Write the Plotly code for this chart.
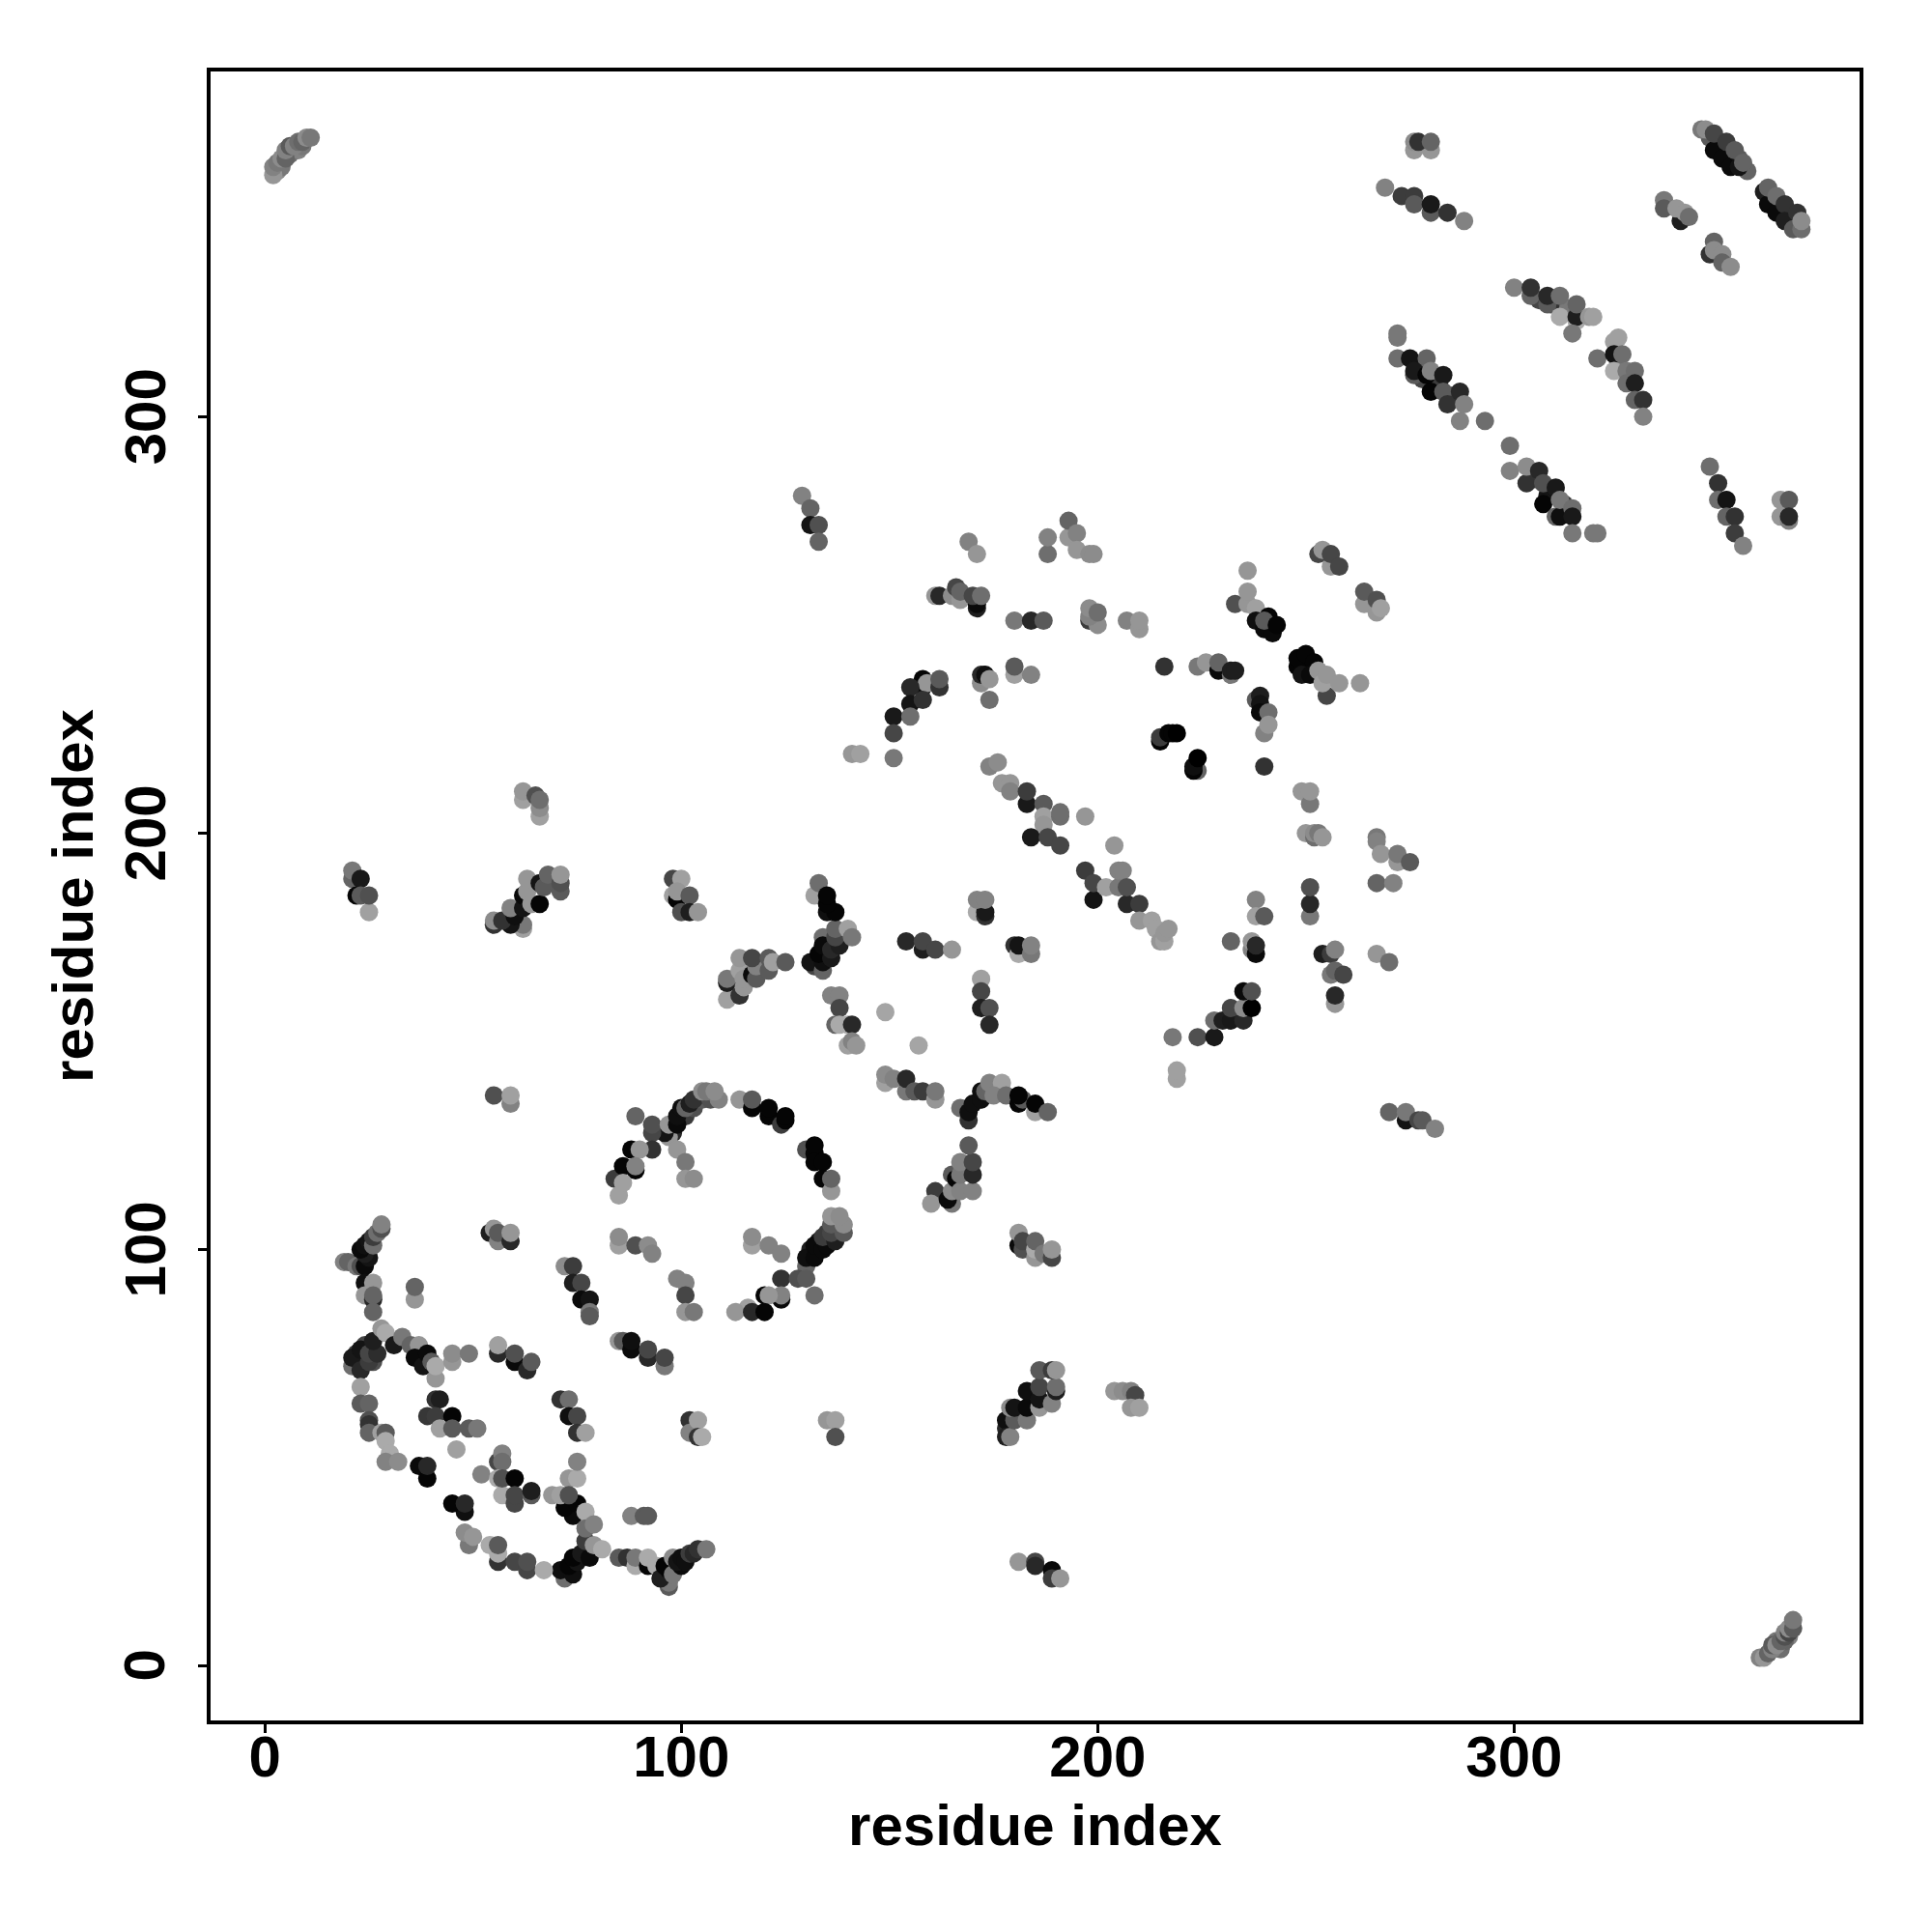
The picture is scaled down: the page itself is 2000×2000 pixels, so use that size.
import plotly.graph_objects as go

tick_vals = [0, 100, 200, 300]
tick_text = ["0", "100", "200", "300"]
axis_title = "residue index"

# each cluster: residue x, residue y, grey shade (0 black .. 255 white)
fill_x = [347,349,352,354,356,362,364,366,277,278,282,285,305,308,312,306,309,313,325,328,3,4,6,8,9,363,364,366,365,101,103,105,98,97,96,131,133,135,22,24,26,135,137,134,132]
fill_y = [367,365,363,362,359,352,350,348,312,309,308,305,285,281,279,328,327,326,313,309,359,360,363,364,365,6,4,7,6,132,134,136,128,127,128,100,102,104,75,77,73,171,174,175,168]
fill_g = [90,80,70,90,100,60,80,70,30,70,60,50,70,20,60,70,50,120,120,90,140,120,110,130,120,120,110,130,100,60,80,90,40,150,20,30,25,60,60,70,80,90,80,110,70]
a_x = [19,20,22,23,24,25,24,23,24,25,26,26,27,28,28]
a_y = [97,97,96,96,96,98,99,100,101,102,101,103,104,105,106]
a_g = [130,100,120,80,10,20,30,10,15,20,110,60,110,80,130]
b_x = [24,24,26,26,26,26,36,36]
b_y = [92,89,92,88,89,85,88,91]
b_g = [15,150,150,40,100,100,150,100]
c_x = [21,21,23,25,23,25,27,26,28,29,31,33,35,37,36,38,39,40,41,41,45,45,49]
c_y = [72,74,71,73,76,75,75,78,81,80,77,79,77,77,74,72,75,73,69,72,73,75,75]
c_g = [110,25,40,60,20,70,45,30,150,170,25,120,100,150,10,20,10,90,150,170,150,140,120]
d_x = [56,56,60,60,63,64]
d_y = [75,77,73,75,71,73]
d_g = [40,160,10,80,40,90]
e_x = [85,86,88,88,92,92,96,96]
e_y = [78,78,76,78,74,76,72,74]
e_g = [150,90,10,15,40,70,120,70]
f_x = [23,23,25,25,25,25,28,29,29,30,29,32]
f_y = [67,63,63,59,58,56,56,56,54,51,49,49]
f_g = [160,90,100,80,50,100,160,90,170,170,130,140]
g_x = [37,39,39,48,45,48]
g_y = [48,45,48,37,39,39]
g_g = [10,5,40,15,5,40]
h_x = [41,42,39,41,45,42,45,49,51,46]
h_y = [64,64,60,60,60,57,57,57,57,52]
h_g = [50,30,55,60,5,160,90,90,120,160]
i_x = [71,73,73,75,75,77]
i_y = [64,64,60,60,56,56]
i_g = [50,110,15,70,50,160]
j_x = [102,102,104,104,105]
j_y = [59,56,59,55,55]
j_g = [50,130,160,50,170]
k_x = [56,57,57,52,56,57,57,60,60,60,64,64]
k_y = [49,51,49,46,45,41,45,45,39,41,41,42]
k_g = [70,130,110,130,170,170,80,5,70,70,90,30]
l_x = [73,75,75]
l_y = [45,45,49]
l_g = [150,170,130]
m_x = [72,71,74,73,75,74,76,78,77,74,72,75,69,71,73,77,77,79,79,81]
m_y = [21,23,22,24,25,26,27,26,30,36,38,39,41,41,41,37,33,34,29,28]
m_g = [110,15,15,5,20,5,25,10,60,10,5,5,150,160,80,170,110,130,150,170]
n_x = [49,48,50,54,56,56,56,60,63,63,67]
n_y = [29,32,31,29,25,27,29,25,23,25,23]
n_g = [120,140,150,170,50,170,90,70,70,80,170]
o_x = [88,91,92]
o_y = [36,36,36]
o_g = [130,90,90]
p_x = [85,87,89,89,92,92,94]
p_y = [26,26,24,26,24,26,24]
p_g = [90,50,170,120,5,170,170]
q_x = [97,97,95,97,96,98,98,100,99,100,101,102,103,104,106]
q_y = [19,20,21,23,24,22,26,24,25,26,25,27,27,28,28]
q_g = [90,120,30,10,5,120,140,10,20,15,15,60,40,50,120]
r_x = [72,74,74,76,76,78,78,78]
r_y = [96,96,92,92,88,88,85,84]
r_g = [140,60,30,70,10,20,120,90]
s_x = [54,55,56,56,59,59]
s_y = [104,105,102,104,102,104]
s_g = [30,150,130,90,40,150]
t_x = [89,93,93,93,88,90,84,86,89,89,85,86]
t_y = [132,128,130,124,124,124,117,120,119,120,113,116]
t_g = [100,70,80,50,5,150,60,5,5,130,160,160]
u_x = [99,101,101,103]
u_y = [124,121,117,117]
u_g = [150,120,150,140]
v_x = [97,99,99,100,101,102,103,107,109,105,106,108]
v_y = [130,130,132,134,134,135,136,136,136,138,138,138]
v_g = [150,10,15,15,100,30,50,80,130,140,120,140]
w_x = [114,117,117,121,121,124,125,125]
w_y = [136,134,136,132,134,130,131,132]
w_g = [150,5,90,5,5,60,5,5]
x_x = [130,132,132,132,134,134,136,136]
x_y = [124,123,125,121,121,117,114,117]
x_g = [80,5,5,5,5,5,150,100]
y_x = [130,130,132,132,134,135,134,137,136,139,136,139,136,138]
y_y = [96,98,98,101,100,101,103,102,104,104,106,106,108,108]
y_g = [100,15,10,10,10,10,60,30,70,90,90,140,150,140]
z_x = [85,85,89,92,93]
z_y = [101,103,101,101,99]
z_g = [160,140,80,140,130]
aa_x = [117,117,121,124]
aa_y = [101,103,101,99]
aa_g = [160,140,130,130]
ab_x = [99,101,101,101,103]
ab_y = [93,92,89,85,85]
ab_g = [130,130,70,150,120]
ac_x = [124,128,130,132]
ac_y = [93,93,93,89]
ac_g = [50,80,90,110]
ad_x = [124,124,120,121,116,113,117,120]
ad_y = [88,89,89,89,86,85,85,85]
ad_g = [10,130,5,150,160,150,40,5]
ae_x = [135,137,137]
ae_y = [59,59,55]
ae_g = [150,160,80]
af_x = [161,160,165,164,165,165,166,167,167,167,170,170,170,169]
af_y = [114,111,111,112,114,118,117,114,118,121,114,118,121,125]
af_g = [60,150,120,10,140,90,5,130,120,130,130,40,70,90]
ag_x = [181,181,182,182,185,185,185,187,189,189]
ag_y = [101,104,100,102,98,100,102,99,98,100]
ag_g = [10,150,80,70,150,170,100,120,70,150]
ah_x = [111,111,111,114,114,115,115,114,117,118,118,117,121,121,122,125]
ah_y = [160,164,165,161,167,163,165,170,166,165,168,170,167,170,169,169]
ah_g = [160,30,120,50,160,150,150,150,10,90,130,70,90,90,160,90]
ai_x = [98,98,100,99,99,102,100,102,104]
ai_y = [185,189,189,184,186,185,181,181,181]
ai_g = [160,70,160,5,150,90,80,30,150]
aj_x = [131,134,134,133,136,134,136,138,137,137,140,141,132,133,135,137,135,135]
aj_y = [169,167,169,171,170,173,172,173,175,177,177,175,185,188,181,181,183,185]
aj_g = [20,100,15,5,25,10,40,30,70,100,160,120,160,110,15,5,5,5]
ak_x = [136,138,138,137,138,140,141,140,141,142]
ak_y = [161,161,158,154,154,154,154,149,150,149]
ak_g = [130,130,70,100,170,170,40,160,130,150]
al_x = [149,157]
al_y = [157,149]
al_g = [165,165]
am_x = [149,149,151,154,154,156,158,161,161]
am_y = [140,142,141,138,141,138,138,136,138]
am_g = [160,140,130,120,40,90,60,150,120]
an_x = [167,169,169,170,172,172,173,174,177,175,178,181,182,181,185,185,188]
an_y = [134,131,133,135,136,138,138,140,140,137,137,135,136,137,133,135,133]
an_g = [110,50,15,15,15,15,100,130,160,130,110,5,90,5,160,5,100]
ao_x = [154,158,158,161,165]
ao_y = [174,172,174,172,172]
ao_g = [40,30,70,70,150]
ap_x = [171,173,173,171,173]
ap_y = [181,180,181,184,184]
ap_g = [170,50,25,130,130]
aq_x = [180,181,181,184,184]
aq_y = [173,171,173,171,173]
aq_g = [50,170,20,120,130]
ar_x = [172,172,172,174,174]
ar_y = [165,162,158,158,154]
ar_g = [160,70,30,80,40]
as_x = [174,176,177,179,179,183,183,187,187,191,191,187,197,184,188,191,204]
as_y = [216,217,212,212,210,207,210,207,204,204,205,202,204,199,199,197,197]
as_g = [130,140,150,150,130,25,60,90,160,110,110,150,150,25,70,70,150]
at_x = [197,199,199,202,205,205,206,207,207,210,210,213,214,215,216,216,217]
at_y = [191,184,188,187,187,191,191,183,187,183,179,179,177,174,174,176,177]
at_g = [60,20,70,160,120,130,130,40,80,60,150,160,160,150,160,150,150]
au_x = [169,171]
au_y = [270,267]
au_g = [130,150]
av_x = [188,188,193,193,195,195,198,199]
av_y = [267,271,271,275,272,268,267,267]
av_g = [110,130,150,100,130,150,140,140]
aw_x = [161,162,165,166,167,167,171,171,170,172]
aw_y = [257,257,257,259,256,258,254,255,257,257]
aw_g = [150,40,140,70,150,100,30,10,70,110]
ax_x = [180,184,187]
ax_y = [251,251,251]
ax_g = [120,40,90]
ay_x = [198,200,198,198,200,207,210,210]
ay_y = [251,250,252,254,253,251,249,251]
ay_g = [60,140,130,140,110,130,150,150]
az_x = [236,233,236,236,238,238,240,242,241,240,243]
az_y = [263,255,255,258,254,251,249,248,252,251,250]
az_g = [150,80,150,150,160,15,10,10,5,90,5]
ba_x = [253,254,256,256,258]
ba_y = [267,268,264,267,264]
ba_g = [70,150,150,70,70]
bb_x = [264,264,267,267,268]
bb_y = [255,258,253,256,254]
bb_g = [150,90,150,80,160]
bc_x = [172,172,173,174,174,180,180,184]
bc_y = [236,238,238,237,232,238,240,238]
bc_g = [140,40,15,150,110,160,90,130]
bd_x = [216,224,226,229,229,232,232,233]
bd_y = [240,240,241,239,241,238,239,239]
bd_g = [50,120,150,10,100,120,30,30]
be_x = [248,248,250,249,252,251,255,253,254,255,258,263]
be_y = [240,242,243,238,241,238,233,239,236,238,236,236]
be_g = [5,5,5,20,5,10,70,150,160,150,150,150]
bf_x = [238,239,239,239,241,240,241]
bf_y = [232,233,231,229,229,224,226]
bf_g = [90,30,20,10,110,130,150]
bg_x = [240]
bg_y = [216]
bg_g = [50]
bh_x = [215,215,217,218,219]
bh_y = [222,223,224,224,224]
bh_g = [5,60,5,5,0]
bi_x = [224,223,223,224]
bi_y = [215,215,216,218]
bi_g = [100,5,15,0]
bj_x = [249,251,251]
bj_y = [210,207,210]
bj_g = [150,120,150]
bk_x = [250,252,252,253,254]
bk_y = [200,199,200,200,199]
bk_g = [150,110,140,120,150]
bl_x = [267,267,268,272,272,275,267,271]
bl_y = [199,198,195,193,195,193,188,188]
bl_g = [120,130,150,150,120,90,100,130]
bm_x = [251,251,251]
bm_y = [180,183,187]
bm_g = [120,40,80]
bn_x = [238,238,240]
bn_y = [184,180,180]
bn_g = [130,160,90]
bo_x = [232,237,237,238,238]
bo_y = [174,172,174,171,173]
bo_g = [100,130,150,10,40]
bp_x = [254,256,257,267,270,257,257,256,257,259]
bp_y = [171,171,172,171,169,159,161,166,167,166]
bp_g = [30,60,130,150,110,150,40,120,100,70]
bq_x = [218,224,228,228,230,232,235,232,235,235,237,237]
bq_y = [151,151,151,155,155,155,155,158,158,162,158,162]
bq_g = [120,80,25,110,30,25,40,70,140,10,0,80]
br_x = [219,219]
br_y = [141,143]
br_g = [160,160]
bs_x = [270,274,274,277,278,281]
bs_y = [133,131,133,131,131,129]
bs_g = [100,20,120,70,90,130]
bt_x = [178,178,178,179,180,179,180,183,183,183,186,186,186,189,190,190,186,189,190]
bt_y = [57,59,55,55,59,62,62,59,62,66,62,64,67,63,66,67,71,71,71]
bt_g = [40,15,30,130,90,140,20,120,10,15,150,20,70,130,30,110,90,60,150]
bu_x = [204,206,208,209,208,210]
bu_y = [66,66,66,65,62,62]
bu_g = [150,140,130,70,150,160]
bv_x = [181,185,185,189,189,191]
bv_y = [25,25,24,23,21,21]
bv_g = [150,70,40,10,60,150]
bw_x = [129,131,131,133,133]
bw_y = [281,278,274,274,270]
bw_g = [130,100,20,80,100]
bx_x = [158,158,159,162,162,155,155,158,151,155,151,151,141,143]
bx_y = [237,235,236,235,237,235,231,232,228,228,224,218,219,219]
bx_g = [5,10,150,50,90,40,20,50,25,110,70,120,150,160]
ca_x = [276,280,276,277,280]
ca_y = [364,364,366,366,366]
ca_g = [150,150,140,50,100]
cb_x = [269,273,276,276,280,280,284,288]
cb_y = [355,353,353,351,349,351,349,347]
cb_g = [130,60,60,90,90,25,50,130]
cc_x = [345,346,348,350,352,354,348,351,353,355]
cc_y = [369,369,364,362,360,360,368,366,364,361]
cc_g = [120,140,10,10,10,20,70,60,90,100]
cd_x = [360,361,363,361,363,365,365,367,368,369,369]
cd_y = [354,351,349,355,353,351,347,345,349,345,347]
cd_g = [30,10,10,100,110,50,30,90,50,110,140]
ce_x = [336,336,340,339,341,342]
ce_y = [352,350,347,350,349,348]
ce_g = [120,90,30,150,150,110]
cf_x = [347,348,348,350,350,352]
cf_y = [339,342,340,339,337,336]
cf_g = [50,100,140,140,100,140]
cg_x = [300,304,304,308,308,311,311,315,315,315,314,318,319]
cg_y = [331,329,331,327,329,324,329,323,324,327,320,324,324]
cg_g = [130,100,50,90,40,170,110,170,30,100,120,150,160]
ch_x = [320,324,325,324,324,326,327,329,327,329,329,331,331]
ch_y = [314,318,319,315,311,315,311,311,308,308,304,304,300]
ch_g = [110,160,160,20,170,110,120,110,110,30,100,50,130]
ci_x = [272,272,272,275,279,276,276,279,280,283,280,283,287,284,287,288,293]
ci_y = [319,320,314,314,314,310,311,310,311,310,306,306,299,303,306,303,299]
ci_g = [120,120,110,20,100,90,25,5,130,25,5,90,130,50,40,130,110]
cj_x = [299,299,303,303,306,307,307,310,310,311,311,314,314,314,319,320]
cj_y = [293,287,284,288,287,284,279,283,276,276,280,278,276,272,272,272]
cj_g = [110,130,50,140,40,80,5,25,100,15,120,110,25,120,120,120]
ck_x = [347,349,349,351,351,353,353,355]
ck_y = [288,284,280,280,276,276,272,269]
ck_g = [110,50,110,20,100,50,60,130]
cl_x = [364,364,366,366,366]
cl_y = [276,280,275,280,276]
cl_g = [150,150,130,90,40]
cm_x = [62,62,65,66,66,66]
cm_y = [208,210,209,204,206,208]
cm_g = [160,150,80,160,140,110]
cn_x = [21,21,23,22,23,25,25]
cn_y = [189,191,189,185,185,181,185]
cn_g = [100,120,25,5,90,160,80]
co_x = [55,55,62,62,59,57,60,59,62,62,63,64,66,63,66,67,68,71,71,71]
co_y = [178,179,177,178,178,179,180,182,182,185,186,183,183,189,188,187,190,186,188,190]
co_g = [50,140,160,120,20,50,15,130,20,10,150,150,5,150,20,90,100,90,80,150]
cp_x = [55,59,59]
cp_y = [137,135,137]
cp_g = [80,130,160]
tl_x = [2,2,3,4,5,5,6,7,8,9,10,11]
tl_y = [358,360,361,362,362,364,365,365,366,366,367,367]
tl_g = [150,130,120,140,100,130,90,130,110,100,140,120]
br2_x = [359,360,361,362,362,363,364,365,365,366,366,367,367]
br2_y = [2,2,3,4,5,5,6,7,8,8,9,9,11]
br2_g = [130,150,100,130,90,140,100,80,130,70,140,90,120]

clusters = [
    (fill_x,fill_y,fill_g),
    (a_x,a_y,a_g),(b_x,b_y,b_g),(c_x,c_y,c_g),(d_x,d_y,d_g),(e_x,e_y,e_g),(f_x,f_y,f_g),
    (g_x,g_y,g_g),(h_x,h_y,h_g),(i_x,i_y,i_g),(j_x,j_y,j_g),(k_x,k_y,k_g),(l_x,l_y,l_g),
    (m_x,m_y,m_g),(n_x,n_y,n_g),(o_x,o_y,o_g),(p_x,p_y,p_g),(q_x,q_y,q_g),(r_x,r_y,r_g),
    (s_x,s_y,s_g),(t_x,t_y,t_g),(u_x,u_y,u_g),(v_x,v_y,v_g),(w_x,w_y,w_g),(x_x,x_y,x_g),
    (y_x,y_y,y_g),(z_x,z_y,z_g),(aa_x,aa_y,aa_g),(ab_x,ab_y,ab_g),(ac_x,ac_y,ac_g),
    (ad_x,ad_y,ad_g),(ae_x,ae_y,ae_g),(af_x,af_y,af_g),(ag_x,ag_y,ag_g),(ah_x,ah_y,ah_g),
    (ai_x,ai_y,ai_g),(aj_x,aj_y,aj_g),(ak_x,ak_y,ak_g),(al_x,al_y,al_g),(am_x,am_y,am_g),
    (an_x,an_y,an_g),(ao_x,ao_y,ao_g),(ap_x,ap_y,ap_g),(aq_x,aq_y,aq_g),(ar_x,ar_y,ar_g),
    (as_x,as_y,as_g),(at_x,at_y,at_g),(au_x,au_y,au_g),(av_x,av_y,av_g),(aw_x,aw_y,aw_g),
    (ax_x,ax_y,ax_g),(ay_x,ay_y,ay_g),(az_x,az_y,az_g),(ba_x,ba_y,ba_g),(bb_x,bb_y,bb_g),
    (bc_x,bc_y,bc_g),(bd_x,bd_y,bd_g),(be_x,be_y,be_g),(bf_x,bf_y,bf_g),(bg_x,bg_y,bg_g),
    (bh_x,bh_y,bh_g),(bi_x,bi_y,bi_g),(bj_x,bj_y,bj_g),(bk_x,bk_y,bk_g),(bl_x,bl_y,bl_g),
    (bm_x,bm_y,bm_g),(bn_x,bn_y,bn_g),(bo_x,bo_y,bo_g),(bp_x,bp_y,bp_g),(bq_x,bq_y,bq_g),
    (br_x,br_y,br_g),(bs_x,bs_y,bs_g),(bt_x,bt_y,bt_g),(bu_x,bu_y,bu_g),(bv_x,bv_y,bv_g),
    (bw_x,bw_y,bw_g),(bx_x,bx_y,bx_g),(ca_x,ca_y,ca_g),(cb_x,cb_y,cb_g),(cc_x,cc_y,cc_g),
    (cd_x,cd_y,cd_g),(ce_x,ce_y,ce_g),(cf_x,cf_y,cf_g),(cg_x,cg_y,cg_g),(ch_x,ch_y,ch_g),
    (ci_x,ci_y,ci_g),(cj_x,cj_y,cj_g),(ck_x,ck_y,ck_g),(cl_x,cl_y,cl_g),(cm_x,cm_y,cm_g),
    (cn_x,cn_y,cn_g),(co_x,co_y,co_g),(cp_x,cp_y,cp_g),(tl_x,tl_y,tl_g),(br2_x,br2_y,br2_g),
]

xs, ys, colors = [], [], []
for n, (cx, cy, cg) in enumerate(clusters):
    assert len(cx) == len(cy) == len(cg), (n, len(cx), len(cy), len(cg))
    xs += cx
    ys += cy
    colors += [f"rgb({v},{v},{v})" for v in cg]

FONT = "Liberation Sans"
TICK_FONT = dict(family=FONT, size=60, color="black", weight="bold")
TITLE_FONT = dict(family=FONT, size=60, color="black", weight="bold")
fig = go.Figure(go.Scatter(
    x=xs, y=ys, mode="markers",
    marker=dict(size=19, color=colors, line=dict(width=0)),
    hoverinfo="skip",
))
axis_common = dict(
    tickvals=tick_vals, ticktext=tick_text,
    showgrid=False, zeroline=False, showline=True, mirror=True,
    linecolor="black", linewidth=3.5, ticks="outside", ticklen=9, tickwidth=3,
    tickcolor="black",
    title=dict(text=axis_title, font=TITLE_FONT),
)
fig.update_layout(
    width=2000, height=2000, autosize=False,
    paper_bgcolor="white", plot_bgcolor="white", showlegend=False,
    margin=dict(l=218, r=75, t=74, b=219, autoexpand=False),
)
fig.update_xaxes(**axis_common, range=[-13.04, 382.96], tickfont=TICK_FONT,
                 ticklabelstandoff=-27, title_standoff=18)
fig.update_yaxes(**axis_common, range=[-13.1, 382.9], showticklabels=False,
                 title_standoff=90)
for v, t in zip(tick_vals, tick_text):
    fig.add_annotation(x=0, xref="paper", y=v, yref="y", text=t, textangle=-90,
                       showarrow=False, xanchor="center", yanchor="middle",
                       xshift=-68, font=TICK_FONT)
fig.write_html("out.html", config={"displayModeBar": False},
               post_script="document.body.style.margin='0';")
